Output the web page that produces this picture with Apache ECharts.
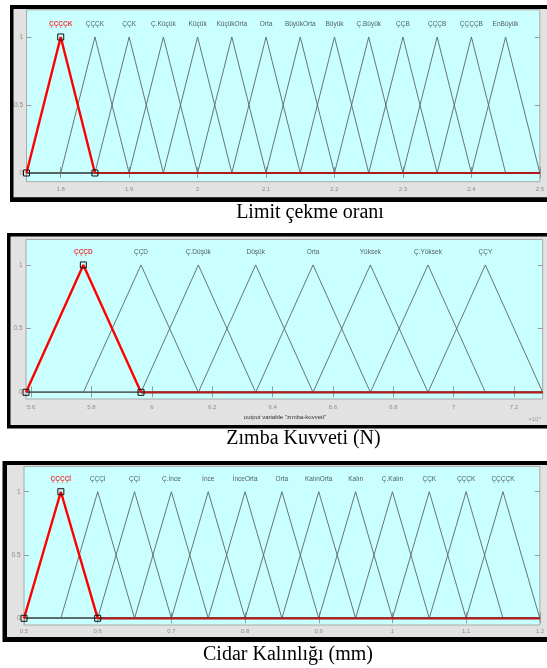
<!DOCTYPE html>
<html><head><meta charset="utf-8">
<script src="https://cdn.jsdelivr.net/npm/echarts@6/dist/echarts.min.js"></script>
<style>html,body{margin:0;padding:0;background:#fff;}#c{width:547px;height:668px;}</style>
</head><body><div id="c"></div>
<script>
// ---------- DATA ----------
// Panel 1: Limit çekme oranı
const lcoRange = [1.75, 2.5];
const lcoNames = ['ÇÇÇÇK','ÇÇÇK','ÇÇK','Ç.Küçük','Küçük','KüçükOrta','Orta','BüyükOrta','Büyük','Ç.Büyük','ÇÇB','ÇÇÇB','ÇÇÇÇB','EnBüyük'];
const lcoParams = [[1.75,1.8,1.85],[1.8,1.85,1.9],[1.85,1.9,1.95],[1.9,1.95,2.0],[1.95,2.0,2.05],[2.0,2.05,2.1],[2.05,2.1,2.15],[2.1,2.15,2.2],[2.15,2.2,2.25],[2.2,2.25,2.3],[2.25,2.3,2.35],[2.3,2.35,2.4],[2.35,2.4,2.45],[2.4,2.45,2.5]];
const lcoTicks = [1.8,1.9,2,2.1,2.2,2.3,2.4,2.5];

// Panel 2: Zımba Kuvveti (N)
const zkRange = [55830, 72950];
const zkNames = ['ÇÇÇD','ÇÇD','Ç.Düşük','Düşük','Orta','Yüksek','Ç.Yüksek','ÇÇY'];
const zkParams = [[55830,57730,59640],[57730,59640,61540],[59640,61540,63440],[61540,63440,65340],[63440,65340,67240],[65340,67240,69150],[67240,69150,71050],[69150,71050,72950]];
const zkTicks = [56000,58000,60000,62000,64000,66000,68000,70000,72000];

// Panel 3: Cidar Kalınlığı (mm)
const ckRange = [0.5, 1.2];
const ckNames = ['ÇÇÇÇİ','ÇÇÇİ','ÇÇİ','Ç.İnce','İnce','İnceOrta','Orta','KalınOrta','Kalın','Ç.Kalın','ÇÇK','ÇÇÇK','ÇÇÇÇK'];
const ckParams = [[0.5,0.55,0.6],[0.55,0.6,0.65],[0.6,0.65,0.7],[0.65,0.7,0.75],[0.7,0.75,0.8],[0.75,0.8,0.85],[0.8,0.85,0.9],[0.85,0.9,0.95],[0.9,0.95,1.0],[0.95,1.0,1.05],[1.0,1.05,1.1],[1.05,1.1,1.15],[1.1,1.15,1.2]];
const ckTicks = [0.5,0.6,0.7,0.8,0.9,1.0,1.1,1.2];

const yTicks = [0, 0.5, 1];
const yTickLabels = ['0', '0.5', '1'];

// ---------- LAYOUT / STYLE ----------
const CYAN = '#c9ffff', GREY = '#e2e2e2';
const SANS = 'Liberation Sans, Arial, sans-serif';
const SERIF = 'Liberation Serif, Times New Roman, serif';

const panels = [
  {grid:{left:26.5, top:9.8, width:517.5, height:171.9}, xr:lcoRange, yr:[-0.064,1.2], params:lcoParams, names:lcoNames, ticks:lcoTicks,
   fmt:v=>String(+v.toFixed(2)), margin:5},
  {grid:{left:26, top:239.5, width:516.7, height:159.5}, xr:zkRange, yr:[-0.0526,1.2], params:zkParams, names:zkNames, ticks:zkTicks,
   fmt:v=>String(+(v/10000).toFixed(2)), margin:5},
  {grid:{left:24, top:466.4, width:518.7, height:158.6}, xr:ckRange, yr:[-0.053,1.2], params:ckParams, names:ckNames, ticks:ckTicks,
   fmt:v=>String(+v.toFixed(2)), margin:3.5}
];

const grids = [], xAxes = [], yAxes = [], series = [];
const tickStyle = {color:'#9a9a9a', width:1};
panels.forEach((p, k) => {
  grids.push(Object.assign({show:true, backgroundColor:CYAN, borderColor:'#a8a8a8', borderWidth:1, containLabel:false}, p.grid));
  xAxes.push({type:'value', gridIndex:k, position:'bottom', min:p.xr[0], max:p.xr[1], splitLine:{show:false}, axisLine:{show:false},
    axisTick:{show:true, inside:true, length:6, lineStyle:tickStyle, customValues:p.ticks},
    axisLabel:{show:true, customValues:p.ticks, formatter:p.fmt, fontSize:6, color:'#8c8c8c', fontFamily:SANS, margin:p.margin, showMinLabel:true, showMaxLabel:true}});
  xAxes.push({type:'value', gridIndex:k, position:'top', min:p.xr[0], max:p.xr[1], splitLine:{show:false}, axisLine:{show:false},
    axisTick:{show:true, inside:true, length:5, lineStyle:tickStyle, customValues:p.ticks}, axisLabel:{show:false}});
  yAxes.push({type:'value', gridIndex:k, position:'left', min:p.yr[0], max:p.yr[1], splitLine:{show:false}, axisLine:{show:false},
    axisTick:{show:true, inside:true, length:5, lineStyle:tickStyle, customValues:yTicks},
    axisLabel:{show:true, customValues:yTicks, formatter:v=>yTickLabels[yTicks.indexOf(Math.round(v*10)/10)], fontSize:6.5, color:'#8c8c8c', fontFamily:SANS, margin:3.5}});
  yAxes.push({type:'value', gridIndex:k, position:'right', min:p.yr[0], max:p.yr[1], splitLine:{show:false}, axisLine:{show:false},
    axisTick:{show:true, inside:true, length:5, lineStyle:tickStyle, customValues:yTicks}, axisLabel:{show:false}});

  const xi = 2*k, yi = 2*k;
  p.params.forEach((t, i) => {
    if (i === 0) return;
    series.push({type:'line', xAxisIndex:xi, yAxisIndex:yi, symbol:'none', silent:true, animation:false, z:2,
      lineStyle:{color:'#5a6665', width:0.9},
      data:[[p.xr[0],0],[t[0],0],[t[1],1],[t[2],0],[p.xr[1],0]]});
  });
  const s = p.params[0];
  series.push({type:'line', xAxisIndex:xi, yAxisIndex:yi, symbol:'none', silent:true, animation:false, z:3,
    lineStyle:{color:'#b01c1c', width:2.2}, data:[[s[2],0],[p.xr[1],0]]});
  series.push({type:'line', xAxisIndex:xi, yAxisIndex:yi, symbol:'rect', symbolSize:6, showSymbol:true, silent:true, animation:false, z:4, clip:false,
    itemStyle:{color:'rgba(0,0,0,0)', borderColor:'#111', borderWidth:1},
    lineStyle:{color:'#ff0000', width:2.4}, data:[[s[0],0],[s[1],1],[s[2],0]]});
  series.push({type:'scatter', xAxisIndex:xi, yAxisIndex:yi, symbol:'circle', symbolSize:1, silent:true, animation:false, z:5,
    itemStyle:{color:'rgba(0,0,0,0)'},
    label:{show:true, position:'top', distance:9, fontSize:6.5, fontFamily:SANS,
      formatter:prm=>p.names[prm.dataIndex], color:'#333'},
    data:p.params.map((t,i)=>({value:[t[1],1], label:i===0?{color:'#ff0000', fontWeight:'bold'}:{}}))});
});

const graphic = [
  {type:'rect', z:-10, shape:{x:10, y:5, width:545, height:197}, style:{fill:'#000'}},
  {type:'rect', z:-9, shape:{x:13.5, y:9, width:540, height:188.3}, style:{fill:GREY}},
  {type:'rect', z:-10, shape:{x:7, y:233, width:548, height:195.5}, style:{fill:'#000'}},
  {type:'rect', z:-9, shape:{x:10.5, y:236.5, width:540, height:188.5}, style:{fill:GREY}},
  {type:'rect', z:-10, shape:{x:2.5, y:461, width:552, height:181}, style:{fill:'#000'}},
  {type:'rect', z:-9, shape:{x:7, y:465, width:545, height:172}, style:{fill:GREY}},
  {type:'text', z:50, style:{x:285, y:417, text:'output variable "zımba-kuvveti"', fontSize:6, fontFamily:SANS, fill:'#333', textAlign:'center', textVerticalAlign:'middle'}},
  {type:'text', z:50, style:{x:541, y:419, text:'×10⁴', fontSize:6, fontFamily:SANS, fill:'#999', textAlign:'right', textVerticalAlign:'middle'}},
  {type:'text', z:50, style:{x:310, y:213, text:'Limit çekme oranı', fontSize:20, fontFamily:SERIF, fill:'#000', textAlign:'center', textVerticalAlign:'middle'}},
  {type:'text', z:50, style:{x:303.5, y:438.5, text:'Zımba Kuvveti (N)', fontSize:20, fontFamily:SERIF, fill:'#000', textAlign:'center', textVerticalAlign:'middle'}},
  {type:'text', z:50, style:{x:288, y:655, text:'Cidar Kalınlığı (mm)', fontSize:20, fontFamily:SERIF, fill:'#000', textAlign:'center', textVerticalAlign:'middle'}}
];

const chart = echarts.init(document.getElementById('c'), null, {renderer:'canvas'});
chart.setOption({animation:false, backgroundColor:'#fff', grid:grids, xAxis:xAxes, yAxis:yAxes, series:series, graphic:graphic});
</script></body></html>
